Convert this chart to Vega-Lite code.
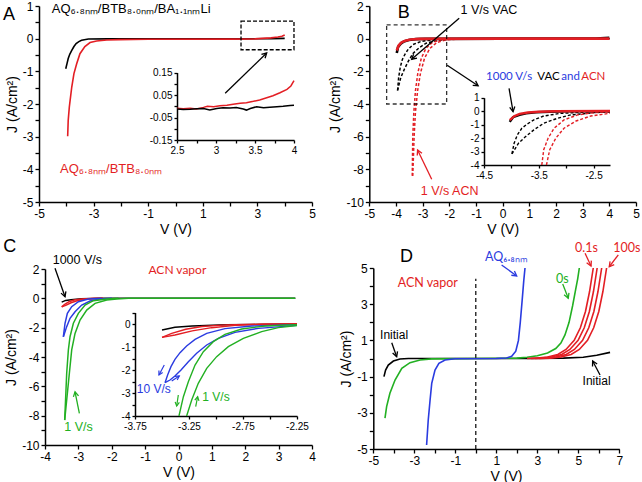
{
"$schema":"https://vega.github.io/schema/vega-lite/v6.json",
"width":642,"height":482,"autosize":{"type":"none"},"padding":0,"background":"white",
"config":{"view":{"stroke":null},"font":"Liberation Sans","axis":{"domainColor":"#000","domainWidth":1.5,"tickColor":"#000","tickWidth":1.3,"tickSize":4,"labelFont":"Liberation Sans","labelFontSize":12,"labelColor":"#000","labelPadding":2,"labelFlush":false,"labelOverlap":false,"titleFont":"Liberation Sans","titleFontSize":14,"titleFontWeight":"normal","titleColor":"#000","titlePadding":3,"grid":false}},
"datasets":{
"aMain":[
{"c":"Li","V":-4.02,"J":-0.92},{"c":"Li","V":-3.97,"J":-0.75},{"c":"Li","V":-3.93,"J":-0.61},{"c":"Li","V":-3.87,"J":-0.47},{"c":"Li","V":-3.8,"J":-0.36},{"c":"Li","V":-3.72,"J":-0.24},{"c":"Li","V":-3.64,"J":-0.15},{"c":"Li","V":-3.54,"J":-0.09},{"c":"Li","V":-3.44,"J":-0.05},{"c":"Li","V":-3.19,"J":-0.01},{"c":"Li","V":-2.5,"J":-0.005},{"c":"Li","V":2,"J":-0.005},{"c":"Li","V":3.5,"J":0},{"c":"Li","V":4,"J":0.01},
{"c":"noLi","V":-3.95,"J":-2.99},{"c":"noLi","V":-3.93,"J":-2.5},{"c":"noLi","V":-3.89,"J":-2.1},{"c":"noLi","V":-3.86,"J":-1.89},{"c":"noLi","V":-3.8,"J":-1.48},{"c":"noLi","V":-3.72,"J":-1.07},{"c":"noLi","V":-3.62,"J":-0.77},{"c":"noLi","V":-3.5,"J":-0.46},{"c":"noLi","V":-3.32,"J":-0.24},{"c":"noLi","V":-3.13,"J":-0.12},{"c":"noLi","V":-2.89,"J":-0.07},{"c":"noLi","V":-2.52,"J":-0.04},{"c":"noLi","V":-2.07,"J":-0.03},{"c":"noLi","V":-1,"J":-0.02},{"c":"noLi","V":2,"J":-0.015},{"c":"noLi","V":2.9,"J":-0.005},{"c":"noLi","V":3.2,"J":0.01},{"c":"noLi","V":3.5,"J":0.025},{"c":"noLi","V":3.75,"J":0.05},{"c":"noLi","V":3.9,"J":0.075},{"c":"noLi","V":4,"J":0.115}
],
"aIns":[
{"c":"noLi","V":2.5,"J":-0.009},{"c":"noLi","V":2.58,"J":-0.011},{"c":"noLi","V":2.67,"J":-0.009},{"c":"noLi","V":2.75,"J":-0.012},{"c":"noLi","V":2.84,"J":-0.005},{"c":"noLi","V":2.89,"J":0},{"c":"noLi","V":2.97,"J":-0.002},{"c":"noLi","V":3.05,"J":0.002},{"c":"noLi","V":3.14,"J":0.004},{"c":"noLi","V":3.22,"J":0.009},{"c":"noLi","V":3.31,"J":0.013},{"c":"noLi","V":3.39,"J":0.016},{"c":"noLi","V":3.48,"J":0.022},{"c":"noLi","V":3.56,"J":0.028},{"c":"noLi","V":3.65,"J":0.038},{"c":"noLi","V":3.73,"J":0.047},{"c":"noLi","V":3.82,"J":0.06},{"c":"noLi","V":3.91,"J":0.075},{"c":"noLi","V":3.96,"J":0.09},{"c":"noLi","V":4,"J":0.114},
{"c":"Li","V":2.5,"J":-0.012},{"c":"Li","V":2.58,"J":-0.014},{"c":"Li","V":2.67,"J":-0.013},{"c":"Li","V":2.75,"J":-0.011},{"c":"Li","V":2.84,"J":-0.01},{"c":"Li","V":2.92,"J":-0.017},{"c":"Li","V":3.01,"J":-0.01},{"c":"Li","V":3.09,"J":-0.007},{"c":"Li","V":3.18,"J":-0.008},{"c":"Li","V":3.26,"J":-0.006},{"c":"Li","V":3.35,"J":-0.012},{"c":"Li","V":3.39,"J":-0.017},{"c":"Li","V":3.44,"J":-0.01},{"c":"Li","V":3.52,"J":-0.002},{"c":"Li","V":3.61,"J":-0.007},{"c":"Li","V":3.69,"J":-0.004},{"c":"Li","V":3.78,"J":-0.002},{"c":"Li","V":3.86,"J":0},{"c":"Li","V":3.95,"J":0.003},{"c":"Li","V":4,"J":0.004}
],
"aRect":[{"c":"note","V":2.4,"J":0.54,"V2":4.34,"J2":-0.34}],
"aArrow":[{"c":"note","V":3.34,"J":-0.44,"V2":1.82,"J2":-1.67,"heading":46}],
"aTxt":[
{"c":"Li","V":-4.53,"J":0.78,"t":"AQ₆.₈ₙₘ/BTB₈.₀ₙₘ/BA₁.₁ₙₘLi"},
{"c":"noLi","V":-4.23,"J":-4.11,"t":"AQ₆.₈ₙₘ/BTB₈.₀ₙₘ"},
{"c":"note","V":-6.32,"J":0.56,"t":"A","big":1}
],
"bMain":[
{"s":"VAC-f","c":"VAC","r":"f","V":-3.97,"J":-0.88},{"s":"VAC-f","c":"VAC","r":"f","V":-3.92,"J":-0.5},{"s":"VAC-f","c":"VAC","r":"f","V":-3.82,"J":-0.3},{"s":"VAC-f","c":"VAC","r":"f","V":-3.7,"J":-0.17},{"s":"VAC-f","c":"VAC","r":"f","V":-3.52,"J":-0.08},{"s":"VAC-f","c":"VAC","r":"f","V":-3.25,"J":-0.03},{"s":"VAC-f","c":"VAC","r":"f","V":-2.9,"J":-0.01},{"s":"VAC-f","c":"VAC","r":"f","V":0,"J":0},{"s":"VAC-f","c":"VAC","r":"f","V":3.5,"J":0.01},{"s":"VAC-f","c":"VAC","r":"f","V":4,"J":0.06},
{"s":"ACN-f","c":"ACN","r":"f","V":-3.97,"J":-0.72},{"s":"ACN-f","c":"ACN","r":"f","V":-3.9,"J":-0.42},{"s":"ACN-f","c":"ACN","r":"f","V":-3.8,"J":-0.24},{"s":"ACN-f","c":"ACN","r":"f","V":-3.65,"J":-0.12},{"s":"ACN-f","c":"ACN","r":"f","V":-3.45,"J":-0.05},{"s":"ACN-f","c":"ACN","r":"f","V":-3.1,"J":-0.01},{"s":"ACN-f","c":"ACN","r":"f","V":0,"J":0},{"s":"ACN-f","c":"ACN","r":"f","V":4,"J":0},
{"s":"VAC-s1","c":"VAC","r":"s","V":-3.94,"J":-3.17},{"s":"VAC-s1","c":"VAC","r":"s","V":-3.9,"J":-2.38},{"s":"VAC-s1","c":"VAC","r":"s","V":-3.84,"J":-1.76},{"s":"VAC-s1","c":"VAC","r":"s","V":-3.76,"J":-1.27},{"s":"VAC-s1","c":"VAC","r":"s","V":-3.66,"J":-0.95},{"s":"VAC-s1","c":"VAC","r":"s","V":-3.54,"J":-0.65},{"s":"VAC-s1","c":"VAC","r":"s","V":-3.36,"J":-0.36},{"s":"VAC-s1","c":"VAC","r":"s","V":-3.05,"J":-0.16},{"s":"VAC-s1","c":"VAC","r":"s","V":-2.44,"J":-0.04},{"s":"VAC-s1","c":"VAC","r":"s","V":-2.1,"J":-0.01},{"s":"VAC-s1","c":"VAC","r":"s","V":4,"J":0},
{"s":"VAC-s2","c":"VAC","r":"s","V":-3.94,"J":-3.17},{"s":"VAC-s2","c":"VAC","r":"s","V":-3.82,"J":-2.38},{"s":"VAC-s2","c":"VAC","r":"s","V":-3.69,"J":-1.89},{"s":"VAC-s2","c":"VAC","r":"s","V":-3.54,"J":-1.39},{"s":"VAC-s2","c":"VAC","r":"s","V":-3.36,"J":-0.9},{"s":"VAC-s2","c":"VAC","r":"s","V":-3.11,"J":-0.53},{"s":"VAC-s2","c":"VAC","r":"s","V":-2.87,"J":-0.28},{"s":"VAC-s2","c":"VAC","r":"s","V":-2.44,"J":-0.11},{"s":"VAC-s2","c":"VAC","r":"s","V":-2.1,"J":-0.04},{"s":"VAC-s2","c":"VAC","r":"s","V":-1.5,"J":0},{"s":"VAC-s2","c":"VAC","r":"s","V":4,"J":0},
{"s":"ACN-s1","c":"ACN","r":"s","V":-3.39,"J":-8.4},{"s":"ACN-s1","c":"ACN","r":"s","V":-3.37,"J":-6},{"s":"ACN-s1","c":"ACN","r":"s","V":-3.33,"J":-4.5},{"s":"ACN-s1","c":"ACN","r":"s","V":-3.27,"J":-3.2},{"s":"ACN-s1","c":"ACN","r":"s","V":-3.18,"J":-2.1},{"s":"ACN-s1","c":"ACN","r":"s","V":-3.05,"J":-1.2},{"s":"ACN-s1","c":"ACN","r":"s","V":-2.88,"J":-0.6},{"s":"ACN-s1","c":"ACN","r":"s","V":-2.65,"J":-0.25},{"s":"ACN-s1","c":"ACN","r":"s","V":-2.35,"J":-0.08},{"s":"ACN-s1","c":"ACN","r":"s","V":-1.9,"J":-0.02},{"s":"ACN-s1","c":"ACN","r":"s","V":4,"J":0},
{"s":"ACN-s2","c":"ACN","r":"s","V":-3.37,"J":-8.4},{"s":"ACN-s2","c":"ACN","r":"s","V":-3.32,"J":-6},{"s":"ACN-s2","c":"ACN","r":"s","V":-3.27,"J":-4.5},{"s":"ACN-s2","c":"ACN","r":"s","V":-3.19,"J":-3.2},{"s":"ACN-s2","c":"ACN","r":"s","V":-3.08,"J":-2.1},{"s":"ACN-s2","c":"ACN","r":"s","V":-2.93,"J":-1.2},{"s":"ACN-s2","c":"ACN","r":"s","V":-2.73,"J":-0.6},{"s":"ACN-s2","c":"ACN","r":"s","V":-2.48,"J":-0.25},{"s":"ACN-s2","c":"ACN","r":"s","V":-2.15,"J":-0.08},{"s":"ACN-s2","c":"ACN","r":"s","V":-1.7,"J":-0.02},{"s":"ACN-s2","c":"ACN","r":"s","V":4,"J":0}
],
"bIns":[
{"s":"VAC-f","c":"VAC","r":"f","V":-4.03,"J":-0.8},{"s":"VAC-f","c":"VAC","r":"f","V":-3.97,"J":-0.45},{"s":"VAC-f","c":"VAC","r":"f","V":-3.85,"J":-0.28},{"s":"VAC-f","c":"VAC","r":"f","V":-3.73,"J":-0.16},{"s":"VAC-f","c":"VAC","r":"f","V":-3.55,"J":-0.08},{"s":"VAC-f","c":"VAC","r":"f","V":-3.3,"J":-0.04},{"s":"VAC-f","c":"VAC","r":"f","V":-2.99,"J":-0.01},{"s":"VAC-f","c":"VAC","r":"f","V":-2.2,"J":0},
{"s":"ACN-f","c":"ACN","r":"f","V":-4.03,"J":-0.66},{"s":"ACN-f","c":"ACN","r":"f","V":-3.95,"J":-0.38},{"s":"ACN-f","c":"ACN","r":"f","V":-3.85,"J":-0.2},{"s":"ACN-f","c":"ACN","r":"f","V":-3.7,"J":-0.1},{"s":"ACN-f","c":"ACN","r":"f","V":-3.5,"J":-0.04},{"s":"ACN-f","c":"ACN","r":"f","V":-3.2,"J":-0.01},{"s":"ACN-f","c":"ACN","r":"f","V":-2.2,"J":0.01},
{"s":"VAC-s1","c":"VAC","r":"s","V":-3.99,"J":-3.17},{"s":"VAC-s1","c":"VAC","r":"s","V":-3.95,"J":-2.38},{"s":"VAC-s1","c":"VAC","r":"s","V":-3.89,"J":-1.76},{"s":"VAC-s1","c":"VAC","r":"s","V":-3.81,"J":-1.27},{"s":"VAC-s1","c":"VAC","r":"s","V":-3.71,"J":-0.95},{"s":"VAC-s1","c":"VAC","r":"s","V":-3.59,"J":-0.65},{"s":"VAC-s1","c":"VAC","r":"s","V":-3.41,"J":-0.36},{"s":"VAC-s1","c":"VAC","r":"s","V":-3.1,"J":-0.16},{"s":"VAC-s1","c":"VAC","r":"s","V":-2.49,"J":-0.04},{"s":"VAC-s1","c":"VAC","r":"s","V":-2.2,"J":-0.01},
{"s":"VAC-s2","c":"VAC","r":"s","V":-3.99,"J":-3.17},{"s":"VAC-s2","c":"VAC","r":"s","V":-3.87,"J":-2.38},{"s":"VAC-s2","c":"VAC","r":"s","V":-3.74,"J":-1.89},{"s":"VAC-s2","c":"VAC","r":"s","V":-3.59,"J":-1.39},{"s":"VAC-s2","c":"VAC","r":"s","V":-3.41,"J":-0.9},{"s":"VAC-s2","c":"VAC","r":"s","V":-3.16,"J":-0.53},{"s":"VAC-s2","c":"VAC","r":"s","V":-2.92,"J":-0.28},{"s":"VAC-s2","c":"VAC","r":"s","V":-2.49,"J":-0.11},{"s":"VAC-s2","c":"VAC","r":"s","V":-2.2,"J":-0.06},
{"s":"ACN-s1","c":"ACN","r":"s","V":-3.445,"J":-4},{"s":"ACN-s1","c":"ACN","r":"s","V":-3.41,"J":-2.87},{"s":"ACN-s1","c":"ACN","r":"s","V":-3.33,"J":-2.01},{"s":"ACN-s1","c":"ACN","r":"s","V":-3.22,"J":-1.27},{"s":"ACN-s1","c":"ACN","r":"s","V":-3.04,"J":-0.65},{"s":"ACN-s1","c":"ACN","r":"s","V":-2.79,"J":-0.28},{"s":"ACN-s1","c":"ACN","r":"s","V":-2.49,"J":-0.11},{"s":"ACN-s1","c":"ACN","r":"s","V":-2.2,"J":-0.04},
{"s":"ACN-s2","c":"ACN","r":"s","V":-3.36,"J":-4},{"s":"ACN-s2","c":"ACN","r":"s","V":-3.3,"J":-2.87},{"s":"ACN-s2","c":"ACN","r":"s","V":-3.19,"J":-2.01},{"s":"ACN-s2","c":"ACN","r":"s","V":-3.04,"J":-1.27},{"s":"ACN-s2","c":"ACN","r":"s","V":-2.82,"J":-0.73},{"s":"ACN-s2","c":"ACN","r":"s","V":-2.55,"J":-0.36},{"s":"ACN-s2","c":"ACN","r":"s","V":-2.2,"J":-0.16}
],
"bRect":[{"c":"note","V":-4.35,"J":0.84,"V2":-2.1,"J2":-4}],
"bArrow":[
{"c":"VAC","V":-3.41,"J":-1.26,"V2":-1.63,"J2":1.25,"heading":-130.7},
{"c":"note","V":-0.92,"J":-2.88,"V2":-2.08,"J2":-1.63,"heading":123.3},
{"c":"note","V":0.39,"J":-4.47,"V2":0.24,"J2":-3.04,"heading":170.3},
{"c":"ACN","V":-3.19,"J":-6.82,"V2":-2.66,"J2":-8.61,"heading":-25.5}
],
"bTxtA":[
{"c":"VAC","V":-1.58,"J":1.51,"t":"1 V/s VAC"},
{"c":"ACN","V":-3.07,"J":-9.57,"t":"1 V/s ACN"}
],
"bTxtL":[
{"c":"1000 V/s","V":-0.62,"J":-2.5,"t":"1000 V/s"},
{"c":"VAC","V":1.3,"J":-2.5,"t":"VAC"},
{"c":"1000 V/s","V":2.2,"J":-2.5,"t":"and"},
{"c":"ACN","V":2.95,"J":-2.5,"t":"ACN"}
],
"cMain":[
{"s":"k","c":"1000 V/s","V":-3.5,"J":-0.26},{"s":"k","c":"1000 V/s","V":-3.38,"J":-0.14},{"s":"k","c":"1000 V/s","V":-3.22,"J":-0.09},{"s":"k","c":"1000 V/s","V":-2.91,"J":-0.03},{"s":"k","c":"1000 V/s","V":-2.27,"J":0},{"s":"k","c":"1000 V/s","V":3.5,"J":0},
{"s":"r1","c":"100 V/s","V":-3.5,"J":-0.58},{"s":"r1","c":"100 V/s","V":-3.41,"J":-0.41},{"s":"r1","c":"100 V/s","V":-3.28,"J":-0.23},{"s":"r1","c":"100 V/s","V":-3.13,"J":-0.11},{"s":"r1","c":"100 V/s","V":-2.91,"J":-0.04},{"s":"r1","c":"100 V/s","V":-2.6,"J":-0.01},{"s":"r1","c":"100 V/s","V":-2.27,"J":0},
{"s":"r2","c":"100 V/s","V":-3.5,"J":-0.58},{"s":"r2","c":"100 V/s","V":-3.38,"J":-0.48},{"s":"r2","c":"100 V/s","V":-3.22,"J":-0.3},{"s":"r2","c":"100 V/s","V":-3.04,"J":-0.16},{"s":"r2","c":"100 V/s","V":-2.82,"J":-0.06},{"s":"r2","c":"100 V/s","V":-2.55,"J":-0.01},{"s":"r2","c":"100 V/s","V":-2.27,"J":0},
{"s":"b1","c":"10 V/s","V":-3.45,"J":-2.62},{"s":"b1","c":"10 V/s","V":-3.4,"J":-1.7},{"s":"b1","c":"10 V/s","V":-3.33,"J":-1.02},{"s":"b1","c":"10 V/s","V":-3.2,"J":-0.57},{"s":"b1","c":"10 V/s","V":-3,"J":-0.23},{"s":"b1","c":"10 V/s","V":-2.7,"J":-0.05},{"s":"b1","c":"10 V/s","V":-2.3,"J":0},
{"s":"b2","c":"10 V/s","V":-3.45,"J":-2.62},{"s":"b2","c":"10 V/s","V":-3.35,"J":-1.93},{"s":"b2","c":"10 V/s","V":-3.25,"J":-1.36},{"s":"b2","c":"10 V/s","V":-3.1,"J":-0.91},{"s":"b2","c":"10 V/s","V":-2.9,"J":-0.46},{"s":"b2","c":"10 V/s","V":-2.65,"J":-0.18},{"s":"b2","c":"10 V/s","V":-2.35,"J":-0.05},{"s":"b2","c":"10 V/s","V":-2,"J":0},
{"s":"g1","c":"1 V/s","V":-3.41,"J":-8.3},{"s":"g1","c":"1 V/s","V":-3.35,"J":-5.11},{"s":"g1","c":"1 V/s","V":-3.3,"J":-3.52},{"s":"g1","c":"1 V/s","V":-3.25,"J":-2.62},{"s":"g1","c":"1 V/s","V":-3.15,"J":-1.7},{"s":"g1","c":"1 V/s","V":-3,"J":-1.02},{"s":"g1","c":"1 V/s","V":-2.8,"J":-0.46},{"s":"g1","c":"1 V/s","V":-2.55,"J":-0.16},{"s":"g1","c":"1 V/s","V":-2.15,"J":-0.05},{"s":"g1","c":"1 V/s","V":-1.8,"J":0},
{"s":"g2","c":"1 V/s","V":-3.41,"J":-8.3},{"s":"g2","c":"1 V/s","V":-3.27,"J":-5.11},{"s":"g2","c":"1 V/s","V":-3.2,"J":-3.52},{"s":"g2","c":"1 V/s","V":-3.1,"J":-2.39},{"s":"g2","c":"1 V/s","V":-2.95,"J":-1.48},{"s":"g2","c":"1 V/s","V":-2.75,"J":-0.8},{"s":"g2","c":"1 V/s","V":-2.5,"J":-0.34},{"s":"g2","c":"1 V/s","V":-2.15,"J":-0.12},{"s":"g2","c":"1 V/s","V":-1.85,"J":-0.05},{"s":"g2","c":"1 V/s","V":-1.5,"J":0},{"s":"g2","c":"1 V/s","V":3.5,"J":0}
],
"cIns":[
{"s":"k","c":"1000 V/s","V":-3.5,"J":-0.26},{"s":"k","c":"1000 V/s","V":-3.38,"J":-0.14},{"s":"k","c":"1000 V/s","V":-3.22,"J":-0.09},{"s":"k","c":"1000 V/s","V":-2.91,"J":-0.03},{"s":"k","c":"1000 V/s","V":-2.25,"J":0},
{"s":"r1","c":"100 V/s","V":-3.5,"J":-0.58},{"s":"r1","c":"100 V/s","V":-3.41,"J":-0.41},{"s":"r1","c":"100 V/s","V":-3.28,"J":-0.23},{"s":"r1","c":"100 V/s","V":-3.13,"J":-0.11},{"s":"r1","c":"100 V/s","V":-2.91,"J":-0.04},{"s":"r1","c":"100 V/s","V":-2.6,"J":-0.01},{"s":"r1","c":"100 V/s","V":-2.25,"J":0},
{"s":"r2","c":"100 V/s","V":-3.5,"J":-0.58},{"s":"r2","c":"100 V/s","V":-3.38,"J":-0.48},{"s":"r2","c":"100 V/s","V":-3.22,"J":-0.3},{"s":"r2","c":"100 V/s","V":-3.04,"J":-0.16},{"s":"r2","c":"100 V/s","V":-2.82,"J":-0.06},{"s":"r2","c":"100 V/s","V":-2.55,"J":-0.01},{"s":"r2","c":"100 V/s","V":-2.25,"J":0},
{"s":"b1","c":"10 V/s","V":-3.472,"J":-2.551},{"s":"b1","c":"10 V/s","V":-3.448,"J":-2.217},{"s":"b1","c":"10 V/s","V":-3.417,"J":-1.855},{"s":"b1","c":"10 V/s","V":-3.38,"J":-1.536},{"s":"b1","c":"10 V/s","V":-3.333,"J":-1.246},{"s":"b1","c":"10 V/s","V":-3.272,"J":-0.957},{"s":"b1","c":"10 V/s","V":-3.194,"J":-0.667},{"s":"b1","c":"10 V/s","V":-3.086,"J":-0.406},{"s":"b1","c":"10 V/s","V":-2.917,"J":-0.203},{"s":"b1","c":"10 V/s","V":-2.67,"J":-0.087},{"s":"b1","c":"10 V/s","V":-2.25,"J":-0.029},
{"s":"b2","c":"10 V/s","V":-3.472,"J":-2.551},{"s":"b2","c":"10 V/s","V":-3.426,"J":-2.435},{"s":"b2","c":"10 V/s","V":-3.38,"J":-2.261},{"s":"b2","c":"10 V/s","V":-3.324,"J":-2},{"s":"b2","c":"10 V/s","V":-3.256,"J":-1.638},{"s":"b2","c":"10 V/s","V":-3.179,"J":-1.275},{"s":"b2","c":"10 V/s","V":-3.086,"J":-0.913},{"s":"b2","c":"10 V/s","V":-2.978,"J":-0.623},{"s":"b2","c":"10 V/s","V":-2.824,"J":-0.362},{"s":"b2","c":"10 V/s","V":-2.608,"J":-0.188},{"s":"b2","c":"10 V/s","V":-2.25,"J":-0.058},
{"s":"g1","c":"1 V/s","V":-3.343,"J":-4},{"s":"g1","c":"1 V/s","V":-3.302,"J":-3.159},{"s":"g1","c":"1 V/s","V":-3.256,"J":-2.507},{"s":"g1","c":"1 V/s","V":-3.194,"J":-1.783},{"s":"g1","c":"1 V/s","V":-3.117,"J":-1.203},{"s":"g1","c":"1 V/s","V":-3.025,"J":-0.768},{"s":"g1","c":"1 V/s","V":-2.917,"J":-0.449},{"s":"g1","c":"1 V/s","V":-2.762,"J":-0.217},{"s":"g1","c":"1 V/s","V":-2.546,"J":-0.087},{"s":"g1","c":"1 V/s","V":-2.25,"J":-0.029},
{"s":"g2","c":"1 V/s","V":-3.272,"J":-4},{"s":"g2","c":"1 V/s","V":-3.225,"J":-3.304},{"s":"g2","c":"1 V/s","V":-3.164,"J":-2.58},{"s":"g2","c":"1 V/s","V":-3.086,"J":-1.928},{"s":"g2","c":"1 V/s","V":-2.994,"J":-1.42},{"s":"g2","c":"1 V/s","V":-2.886,"J":-0.986},{"s":"g2","c":"1 V/s","V":-2.747,"J":-0.623},{"s":"g2","c":"1 V/s","V":-2.577,"J":-0.333},{"s":"g2","c":"1 V/s","V":-2.423,"J":-0.159},{"s":"g2","c":"1 V/s","V":-2.25,"J":-0.072}
],
"cArrow":[
{"c":"1000 V/s","V":-3.4,"J":0.11,"V2":-3.7,"J2":2.05,"heading":160.6},
{"c":"1 V/s","V":-3.1,"J":-6.37,"V2":-2.97,"J2":-7.84,"heading":-11.3}
],
"cInsArrow":[
{"c":"10 V/s","V":-3.528,"J":-2.217,"V2":-3.479,"J2":-1.783,"heading":-152},
{"c":"10 V/s","V":-3.34,"J":-2.261,"V2":-3.41,"J2":-2.478,"heading":56.7},
{"c":"1 V/s","V":-3.364,"J":-3.565,"V2":-3.349,"J2":-3.087,"heading":-171.7},
{"c":"1 V/s","V":-3.17,"J":-3.159,"V2":-3.188,"J2":-3.594,"heading":11.3}
],
"cTxtA":[
{"c":"1000 V/s","V":-3.77,"J":2.37,"t":"1000 V/s"},
{"c":"1 V/s","V":-3.42,"J":-9.03,"t":"1 V/s"}
],
"cTxtL":[{"c":"ACN","V":-0.9,"J":1.66,"t":"ACN vapor"}],
"cInsTxt":[
{"c":"10 V/s","V":-3.734,"J":-3.01,"t":"10 V/s"},
{"c":"1 V/s","V":-3.127,"J":-3.33,"t":"1 V/s"}
],
"dMain":[
{"s":"Initial","c":"Initial","V":-4.48,"J":-1},{"s":"Initial","c":"Initial","V":-4.4,"J":-0.64},{"s":"Initial","c":"Initial","V":-4.27,"J":-0.36},{"s":"Initial","c":"Initial","V":-4.02,"J":-0.14},{"s":"Initial","c":"Initial","V":-3.7,"J":-0.03},{"s":"Initial","c":"Initial","V":-3.29,"J":0},{"s":"Initial","c":"Initial","V":2.64,"J":0},{"s":"Initial","c":"Initial","V":4.27,"J":0.02},{"s":"Initial","c":"Initial","V":5.24,"J":0.07},{"s":"Initial","c":"Initial","V":5.9,"J":0.18},{"s":"Initial","c":"Initial","V":6.55,"J":0.34},
{"s":"0s","c":"0s","V":-4.43,"J":-3.3},{"s":"0s","c":"0s","V":-4.35,"J":-2.66},{"s":"0s","c":"0s","V":-4.19,"J":-1.92},{"s":"0s","c":"0s","V":-3.94,"J":-1.19},{"s":"0s","c":"0s","V":-3.61,"J":-0.54},{"s":"0s","c":"0s","V":-3.21,"J":-0.23},{"s":"0s","c":"0s","V":-2.72,"J":-0.08},{"s":"0s","c":"0s","V":-2.15,"J":-0.02},{"s":"0s","c":"0s","V":0,"J":0},{"s":"0s","c":"0s","V":2,"J":0.02},{"s":"0s","c":"0s","V":2.5,"J":0.07},{"s":"0s","c":"0s","V":3,"J":0.15},{"s":"0s","c":"0s","V":3.5,"J":0.3},{"s":"0s","c":"0s","V":3.9,"J":0.55},{"s":"0s","c":"0s","V":4.15,"J":0.85},{"s":"0s","c":"0s","V":4.35,"J":1.3},{"s":"0s","c":"0s","V":4.55,"J":2},{"s":"0s","c":"0s","V":4.72,"J":2.9},{"s":"0s","c":"0s","V":4.87,"J":3.8},{"s":"0s","c":"0s","V":4.97,"J":4.4},{"s":"0s","c":"0s","V":5.05,"J":5},
{"s":"AQ","c":"AQ","V":-2.4,"J":-4.78},{"s":"AQ","c":"AQ","V":-2.32,"J":-3.4},{"s":"AQ","c":"AQ","V":-2.23,"J":-2.29},{"s":"AQ","c":"AQ","V":-2.15,"J":-1.37},{"s":"AQ","c":"AQ","V":-1.99,"J":-0.64},{"s":"AQ","c":"AQ","V":-1.8,"J":-0.27},{"s":"AQ","c":"AQ","V":-1.5,"J":-0.08},{"s":"AQ","c":"AQ","V":-1.02,"J":-0.01},{"s":"AQ","c":"AQ","V":1,"J":0},{"s":"AQ","c":"AQ","V":1.5,"J":0.03},{"s":"AQ","c":"AQ","V":1.75,"J":0.12},{"s":"AQ","c":"AQ","V":1.95,"J":0.4},{"s":"AQ","c":"AQ","V":2.08,"J":1},{"s":"AQ","c":"AQ","V":2.17,"J":2},{"s":"AQ","c":"AQ","V":2.26,"J":3.2},{"s":"AQ","c":"AQ","V":2.34,"J":4.3},{"s":"AQ","c":"AQ","V":2.4,"J":5},
{"s":"0.1s","c":"0.1s","V":2.5,"J":0},{"s":"0.1s","c":"0.1s","V":3,"J":0.02},{"s":"0.1s","c":"0.1s","V":3.5,"J":0.08},{"s":"0.1s","c":"0.1s","V":4,"J":0.22},{"s":"0.1s","c":"0.1s","V":4.4,"J":0.5},{"s":"0.1s","c":"0.1s","V":4.8,"J":1},{"s":"0.1s","c":"0.1s","V":5.1,"J":1.7},{"s":"0.1s","c":"0.1s","V":5.35,"J":2.6},{"s":"0.1s","c":"0.1s","V":5.55,"J":3.7},{"s":"0.1s","c":"0.1s","V":5.73,"J":5},
{"s":"1s","c":"1s","V":2.7,"J":0},{"s":"1s","c":"1s","V":3.19,"J":0.02},{"s":"1s","c":"1s","V":3.69,"J":0.08},{"s":"1s","c":"1s","V":4.19,"J":0.22},{"s":"1s","c":"1s","V":4.59,"J":0.5},{"s":"1s","c":"1s","V":4.99,"J":1},{"s":"1s","c":"1s","V":5.29,"J":1.7},{"s":"1s","c":"1s","V":5.54,"J":2.6},{"s":"1s","c":"1s","V":5.74,"J":3.7},{"s":"1s","c":"1s","V":5.92,"J":5},
{"s":"10s","c":"10s","V":2.9,"J":0},{"s":"10s","c":"10s","V":3.41,"J":0.02},{"s":"10s","c":"10s","V":3.91,"J":0.08},{"s":"10s","c":"10s","V":4.41,"J":0.22},{"s":"10s","c":"10s","V":4.81,"J":0.5},{"s":"10s","c":"10s","V":5.21,"J":1},{"s":"10s","c":"10s","V":5.51,"J":1.7},{"s":"10s","c":"10s","V":5.76,"J":2.6},{"s":"10s","c":"10s","V":5.96,"J":3.7},{"s":"10s","c":"10s","V":6.14,"J":5},
{"s":"100s","c":"100s","V":3.1,"J":0},{"s":"100s","c":"100s","V":3.65,"J":0.02},{"s":"100s","c":"100s","V":4.15,"J":0.08},{"s":"100s","c":"100s","V":4.65,"J":0.22},{"s":"100s","c":"100s","V":5.05,"J":0.5},{"s":"100s","c":"100s","V":5.45,"J":1},{"s":"100s","c":"100s","V":5.75,"J":1.7},{"s":"100s","c":"100s","V":6,"J":2.6},{"s":"100s","c":"100s","V":6.2,"J":3.7},{"s":"100s","c":"100s","V":6.38,"J":5}
],
"dLine":[{"c":"Initial","V":0,"J":-5,"V2":0,"J2":4.4}],
"dArrow":[
{"c":"AQ","V":1.995,"J":4.56,"V2":1.26,"J2":5.17,"heading":126.3},
{"c":"0s","V":4.51,"J":3.33,"V2":4.24,"J2":4.12,"heading":158.6},
{"c":"0.1s","V":5.62,"J":5.11,"V2":5.33,"J2":5.81,"heading":154.7},
{"c":"100s","V":6.51,"J":5.07,"V2":6.95,"J2":5.72,"heading":-142.4},
{"c":"Initial","V":-3.86,"J":0.1,"V2":-4.1,"J2":0.87,"heading":160.3},
{"c":"Initial","V":5.7,"J":-0.14,"V2":6.06,"J2":-0.91,"heading":-27.5}
],
"dTxtL":[
{"c":"ACN","V":-3.81,"J":3.97,"t":"ACN vapor"},
{"c":"AQ","V":0.45,"J":5.4,"t":"AQ₆.₈ₙₘ"},
{"c":"0s","V":3.91,"J":4.15,"t":"0s"},
{"c":"0.1s","V":4.84,"J":5.9,"t":"0.1s"},
{"c":"100s","V":6.71,"J":5.9,"t":"100s"}
],
"dTxtA":[
{"c":"Initial","V":-4.67,"J":1.06,"t":"Initial"},
{"c":"Initial","V":5.21,"J":-1.48,"t":"Initial"}
]
},
"layer":[
{
"encoding":{
"x":{"field":"V","type":"quantitative","scale":{"domain":[-5,5],"range":[39,312],"nice":false,"zero":false},"axis":{"orient":"bottom","offset":-280,"values":[-5,-4,-3,-2,-1,0,1,2,3,4,5],"labelExpr":"datum.value % 2 != 0 ? '' + datum.value : ''","title":"V (V)"}},
"y":{"field":"J","type":"quantitative","scale":{"domain":[-5,1],"range":[202,6],"nice":false,"zero":false},"axis":{"orient":"left","offset":-39,"values":[-5,-4.5,-4,-3.5,-3,-2.5,-2,-1.5,-1,-0.5,0,0.5,1],"labelExpr":"datum.value % 1 == 0 ? '' + datum.value : ''","title":"J (A/cm²)"}},
"color":{"field":"c","type":"nominal","scale":{"domain":["Li","noLi","note"],"range":["#000000","#e31e24","#000000"]},"legend":null}
},
"layer":[
{"data":{"name":"aMain"},"mark":{"type":"line","strokeWidth":1.6}},
{"data":{"name":"aRect"},"mark":{"type":"rect","filled":false,"strokeDash":[4,2],"strokeWidth":1.3},"encoding":{"x2":{"field":"V2"},"y2":{"field":"J2"}}},
{"data":{"name":"aArrow"},"mark":{"type":"rule","strokeWidth":1.3},"encoding":{"x2":{"field":"V2"},"y2":{"field":"J2"}}},
{"data":{"name":"aArrow"},"mark":{"type":"point","shape":"M-0.55,1L0,0L0.55,1","filled":false,"size":90,"strokeWidth":1.3,"opacity":1},"encoding":{"angle":{"field":"heading","type":"quantitative","scale":null}}},
{"data":{"name":"aTxt"},"transform":[{"filter":"datum.big != 1"}],"mark":{"type":"text","align":"left","baseline":"alphabetic","fontSize":13},"encoding":{"text":{"field":"t"}}},
{"data":{"name":"aTxt"},"transform":[{"filter":"datum.big == 1"}],"mark":{"type":"text","align":"left","baseline":"alphabetic","fontSize":18},"encoding":{"text":{"field":"t"}}}
]
},
{
"encoding":{
"x":{"field":"V","type":"quantitative","scale":{"domain":[2.5,4],"range":[177,294],"nice":false,"zero":false},"axis":{"orient":"bottom","offset":-342,"values":[2.5,2.75,3,3.25,3.5,3.75,4],"labelExpr":"(datum.value * 2) % 1 == 0 ? '' + datum.value : ''","title":null,"labelFontSize":10,"tickSize":3}},
"y":{"field":"J","type":"quantitative","scale":{"domain":[-0.15,0.15],"range":[140,72.5],"nice":false,"zero":false},"axis":{"orient":"left","offset":-177,"values":[-0.15,-0.1,-0.05,0,0.05,0.1,0.15],"labelExpr":"abs(round(datum.value * 100)) % 10 == 5 ? '' + datum.value : ''","title":null,"labelFontSize":10,"tickSize":3}},
"color":{"field":"c","type":"nominal","scale":{"domain":["Li","noLi","note"],"range":["#000000","#e31e24","#000000"]},"legend":null}
},
"layer":[
{"data":{"name":"aIns"},"mark":{"type":"line","strokeWidth":1.5}}
]
},
{
"encoding":{
"x":{"field":"V","type":"quantitative","scale":{"domain":[-5,5],"range":[369.3,636],"nice":false,"zero":false},"axis":{"orient":"bottom","offset":-280,"values":[-5,-4,-3,-2,-1,0,1,2,3,4,5],"labelExpr":"'' + datum.value","title":"V (V)"}},
"y":{"field":"J","type":"quantitative","scale":{"domain":[-10,2],"range":[202,6],"nice":false,"zero":false},"axis":{"orient":"left","offset":-369.3,"values":[-10,-9,-8,-7,-6,-5,-4,-3,-2,-1,0,1,2],"labelExpr":"datum.value % 2 == 0 ? '' + datum.value : ''","title":"J (A/cm²)"}},
"color":{"field":"c","type":"nominal","scale":{"domain":["VAC","ACN","1000 V/s","note"],"range":["#000000","#e31e24","#2a3be0","#000000"]},"legend":null}
},
"layer":[
{"data":{"name":"bMain"},"transform":[{"filter":"datum.r == 's'"}],"mark":{"type":"line","strokeWidth":1.5,"strokeDash":[3,2]},"encoding":{"detail":{"field":"s"}}},
{"data":{"name":"bMain"},"transform":[{"filter":"datum.r == 'f'"}],"mark":{"type":"line","strokeWidth":2.6},"encoding":{"detail":{"field":"s"}}},
{"data":{"name":"bRect"},"mark":{"type":"rect","filled":false,"strokeDash":[4,3],"strokeWidth":1.3,"opacity":0.8},"encoding":{"x2":{"field":"V2"},"y2":{"field":"J2"}}},
{"data":{"name":"bArrow"},"mark":{"type":"rule","strokeWidth":1.3},"encoding":{"x2":{"field":"V2"},"y2":{"field":"J2"}}},
{"data":{"name":"bArrow"},"mark":{"type":"point","shape":"M-0.55,1L0,0L0.55,1","filled":false,"size":90,"strokeWidth":1.3,"opacity":1},"encoding":{"angle":{"field":"heading","type":"quantitative","scale":null}}},
{"data":{"name":"bTxtA"},"mark":{"type":"text","align":"left","baseline":"alphabetic","fontSize":12.5},"encoding":{"text":{"field":"t"}}},
{"data":{"name":"bTxtL"},"mark":{"type":"text","align":"left","baseline":"alphabetic","fontSize":11.5,"font":"Lato"},"encoding":{"text":{"field":"t"}}},
{"data":{"values":[{"c":"note","V":-3.93,"J":1.25,"t":"B"}]},"mark":{"type":"text","align":"left","baseline":"alphabetic","fontSize":18},"encoding":{"text":{"field":"t"}}}
]
},
{
"encoding":{
"x":{"field":"V","type":"quantitative","scale":{"domain":[-4.5,-2.2],"range":[484,610],"nice":false,"zero":false},"axis":{"orient":"bottom","offset":-317,"values":[-4.5,-4,-3.5,-3,-2.5],"labelExpr":"(datum.value + 4.5) % 1 == 0 ? '' + datum.value : ''","title":null,"labelFontSize":10,"tickSize":3}},
"y":{"field":"J","type":"quantitative","scale":{"domain":[-4,1],"range":[165,97.7],"nice":false,"zero":false},"axis":{"orient":"left","offset":-484,"values":[-4,-3,-2,-1,0,1],"labelExpr":"'' + datum.value","title":null,"labelFontSize":10,"tickSize":3}},
"color":{"field":"c","type":"nominal","scale":{"domain":["VAC","ACN","1000 V/s","note"],"range":["#000000","#e31e24","#2a3be0","#000000"]},"legend":null}
},
"layer":[
{"data":{"name":"bIns"},"transform":[{"filter":"datum.r == 's'"}],"mark":{"type":"line","strokeWidth":1.4,"strokeDash":[3,2]},"encoding":{"detail":{"field":"s"}}},
{"data":{"name":"bIns"},"transform":[{"filter":"datum.r == 'f'"}],"mark":{"type":"line","strokeWidth":2.4},"encoding":{"detail":{"field":"s"}}}
]
},
{
"encoding":{
"x":{"field":"V","type":"quantitative","scale":{"domain":[-4,4],"range":[45,312],"nice":false,"zero":false},"axis":{"orient":"bottom","offset":-37,"values":[-4,-3,-2,-1,0,1,2,3,4],"labelExpr":"'' + datum.value","title":"V (V)"}},
"y":{"field":"J","type":"quantitative","scale":{"domain":[-10,2],"range":[445,269],"nice":false,"zero":false},"axis":{"orient":"left","offset":-45,"values":[-10,-9,-8,-7,-6,-5,-4,-3,-2,-1,0,1,2],"labelExpr":"datum.value % 2 == 0 ? '' + datum.value : ''","title":"J (A/cm²)"}},
"color":{"field":"c","type":"nominal","scale":{"domain":["1000 V/s","100 V/s","10 V/s","1 V/s","ACN","note"],"range":["#000000","#e31e24","#2a3be0","#22b022","#e31e24","#000000"]},"legend":null}
},
"layer":[
{"data":{"name":"cMain"},"mark":{"type":"line","strokeWidth":1.5},"encoding":{"detail":{"field":"s"}}},
{"data":{"name":"cArrow"},"mark":{"type":"rule","strokeWidth":1.3},"encoding":{"x2":{"field":"V2"},"y2":{"field":"J2"}}},
{"data":{"name":"cArrow"},"mark":{"type":"point","shape":"M-0.55,1L0,0L0.55,1","filled":false,"size":90,"strokeWidth":1.3,"opacity":1},"encoding":{"angle":{"field":"heading","type":"quantitative","scale":null}}},
{"data":{"name":"cTxtA"},"mark":{"type":"text","align":"left","baseline":"alphabetic","fontSize":12.5},"encoding":{"text":{"field":"t"}}},
{"data":{"name":"cTxtL"},"mark":{"type":"text","align":"left","baseline":"alphabetic","fontSize":12,"font":"Lato"},"encoding":{"text":{"field":"t"}}},
{"data":{"values":[{"c":"note","V":-5.25,"J":3.18,"t":"C"}]},"mark":{"type":"text","align":"left","baseline":"alphabetic","fontSize":18},"encoding":{"text":{"field":"t"}}}
]
},
{
"encoding":{
"x":{"field":"V","type":"quantitative","scale":{"domain":[-3.75,-2.25],"range":[135,297],"nice":false,"zero":false},"axis":{"orient":"bottom","offset":-66,"values":[-3.75,-3.5,-3.25,-3,-2.75,-2.5,-2.25],"labelExpr":"((datum.value + 3.75) * 2) % 1 == 0 ? '' + datum.value : ''","title":null,"labelFontSize":10,"tickSize":3}},
"y":{"field":"J","type":"quantitative","scale":{"domain":[-4,0.5],"range":[416,312.5],"nice":false,"zero":false},"axis":{"orient":"left","offset":-135,"values":[-4,-3.5,-3,-2.5,-2,-1.5,-1,-0.5,0,0.5],"labelExpr":"datum.value % 1 == 0 ? '' + datum.value : ''","title":null,"labelFontSize":10,"tickSize":3}},
"color":{"field":"c","type":"nominal","scale":{"domain":["1000 V/s","100 V/s","10 V/s","1 V/s","ACN","note"],"range":["#000000","#e31e24","#2a3be0","#22b022","#e31e24","#000000"]},"legend":null}
},
"layer":[
{"data":{"name":"cIns"},"mark":{"type":"line","strokeWidth":1.4},"encoding":{"detail":{"field":"s"}}},
{"data":{"name":"cInsArrow"},"mark":{"type":"rule","strokeWidth":1.2},"encoding":{"x2":{"field":"V2"},"y2":{"field":"J2"}}},
{"data":{"name":"cInsArrow"},"mark":{"type":"point","shape":"M-0.55,1L0,0L0.55,1","filled":false,"size":60,"strokeWidth":1.2,"opacity":1},"encoding":{"angle":{"field":"heading","type":"quantitative","scale":null}}},
{"data":{"name":"cInsTxt"},"mark":{"type":"text","align":"left","baseline":"alphabetic","fontSize":12},"encoding":{"text":{"field":"t"}}}
]
},
{
"encoding":{
"x":{"field":"V","type":"quantitative","scale":{"domain":[-5,7],"range":[373.3,619.3],"nice":false,"zero":false},"axis":{"orient":"bottom","offset":-33,"values":[-5,-4,-3,-2,-1,0,1,2,3,4,5,6,7],"labelExpr":"datum.value % 2 != 0 ? '' + datum.value : ''","title":"V (V)","titleX":506}},
"y":{"field":"J","type":"quantitative","scale":{"domain":[-5,5],"range":[449,268],"nice":false,"zero":false},"axis":{"orient":"left","offset":-373.3,"values":[-5,-4,-3,-2,-1,0,1,2,3,4,5],"labelExpr":"datum.value % 2 != 0 ? '' + datum.value : ''","title":"J (A/cm²)"}},
"color":{"field":"c","type":"nominal","scale":{"domain":["Initial","AQ","0s","0.1s","1s","10s","100s","ACN","note"],"range":["#000000","#2a3be0","#22b022","#e31e24","#e31e24","#e31e24","#e31e24","#e31e24","#000000"]},"legend":null}
},
"layer":[
{"data":{"name":"dLine"},"mark":{"type":"rule","strokeWidth":1.2,"strokeDash":[4,3]},"encoding":{"x2":{"field":"V2"},"y2":{"field":"J2"}}},
{"data":{"name":"dMain"},"mark":{"type":"line","strokeWidth":1.6},"encoding":{"detail":{"field":"s"}}},
{"data":{"name":"dArrow"},"mark":{"type":"rule","strokeWidth":1.3},"encoding":{"x2":{"field":"V2"},"y2":{"field":"J2"}}},
{"data":{"name":"dArrow"},"mark":{"type":"point","shape":"M-0.55,1L0,0L0.55,1","filled":false,"size":90,"strokeWidth":1.3,"opacity":1},"encoding":{"angle":{"field":"heading","type":"quantitative","scale":null}}},
{"data":{"name":"dTxtL"},"mark":{"type":"text","align":"left","baseline":"alphabetic","fontSize":12.5,"font":"Lato"},"encoding":{"text":{"field":"t"}}},
{"data":{"name":"dTxtA"},"mark":{"type":"text","align":"left","baseline":"alphabetic","fontSize":12},"encoding":{"text":{"field":"t"}}},
{"data":{"values":[{"c":"note","V":-3.7,"J":5.35,"t":"D"}]},"mark":{"type":"text","align":"left","baseline":"alphabetic","fontSize":18},"encoding":{"text":{"field":"t"}}}
]
}
],
"resolve":{"scale":{"x":"independent","y":"independent","color":"independent"},"axis":{"x":"independent","y":"independent"},"legend":{"color":"independent"}}
}
